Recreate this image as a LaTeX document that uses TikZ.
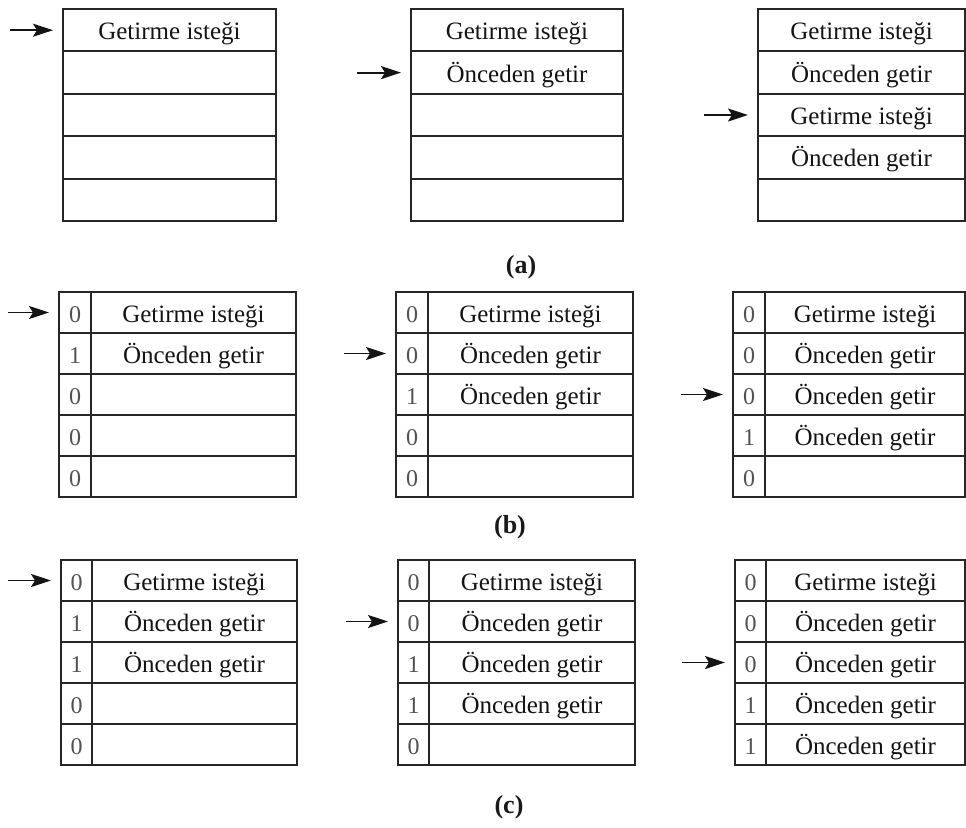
\documentclass[tikz,border=0pt]{standalone}
\usepackage{fontspec}
\setmainfont{Liberation Serif}
\usetikzlibrary{arrows.meta}

% one slot row of a table without a bit column:
% name, left x, right x, top y, height, text
\newcommand\slotrow[6]{%
  \node[slot, minimum width={#3-#2}, minimum height={#5}]
    (#1) at ({(#2+#3)/2},{#4+#5/2}) {#6};}

% one slot row with a leading bit cell:
% name, left x, divider x, right x, top y, height, bit, text
\newcommand\bitrow[8]{%
  \node[bitcell, minimum width={#3-#2}, minimum height={#6}]
    (#1b) at ({(#2+#3)/2},{#5+#6/2}) {#7};
  \node[slot, minimum width={#4-#3}, minimum height={#6}]
    (#1) at ({(#3+#4)/2},{#5+#6/2}) {#8};}

% whole tables: name, geometry, then rows as index/(bit/)text
\newcommand\plaintable[5]{%
  \foreach \i/\t in {#5} {\slotrow{#1r\i}{#2}{#3}{#4+(\i-1)*42.4}{42.4}{\t}}}
\newcommand\bittable[6]{%
  \foreach \i/\b/\t in {#6} {\bitrow{#1r\i}{#2}{#3}{#4}{#5+(\i-1)*41}{41}{\b}{\t}}}

\tikzset{
  slot/.style={draw=black!85, line width=2pt, inner sep=0pt,
    text=black!92, text height=21pt, text depth=2pt,
    font=\fontsize{25}{28}\selectfont},
  bitcell/.style={slot, text=black!68, font=\fontsize{24}{28}\selectfont},
  ptr/.style={line width=1.8pt, black!92,
    -{Stealth[length=20pt,width=13pt,inset=4pt]}, shorten >=9pt},
  caption/.style={font=\bfseries\fontsize{26}{30}\selectfont, text=black!90}
}

\begin{document}
\begin{tikzpicture}[x=1pt, y=-1pt]
  \fill[white] (0,0) rectangle (966,827);
  \useasboundingbox (0,0) rectangle (966,827);

  % ---------------- (a) ----------------
  \plaintable{a1}{63}{276}{9}{1/Getirme isteği, 2/{}, 3/{}, 4/{}, 5/{}}
  \plaintable{a2}{411}{623}{9}{1/Getirme isteği, 2/Önceden getir, 3/{}, 4/{}, 5/{}}
  \plaintable{a3}{758}{965}{9}{1/Getirme isteği, 2/Önceden getir, 3/Getirme isteği, 4/Önceden getir, 5/{}}
  \node[caption] (capa) at (521,267) {(a)};

  % ---------------- (b) ----------------
  \bittable{b1}{59}{91}{296}{292}{1/0/Getirme isteği\hspace{17pt}, 2/1/Önceden getir\hspace{17pt}, 3/0/{}, 4/0/{}, 5/0/{}}
  \bittable{b2}{396}{428}{633}{292}{1/0/Getirme isteği, 2/0/Önceden getir, 3/1/Önceden getir, 4/0/{}, 5/0/{}}
  \bittable{b3}{733}{765}{965}{292}{1/0/Getirme isteği, 2/0/Önceden getir, 3/0/Önceden getir, 4/1/Önceden getir, 5/0/{}}
  \node[caption] (capb) at (510,527) {(b)};

  % ---------------- (c) ----------------
  \bittable{c1}{61}{92}{297}{560}{1/0/Getirme isteği, 2/1/Önceden getir, 3/1/Önceden getir, 4/0/{}, 5/0/{}}
  \bittable{c2}{398}{429}{635}{560}{1/0/Getirme isteği, 2/0/Önceden getir, 3/1/Önceden getir, 4/1/Önceden getir, 5/0/{}}
  \bittable{c3}{735}{766}{965}{560}{1/0/Getirme isteği, 2/0/Önceden getir, 3/0/Önceden getir, 4/1/Önceden getir, 5/1/Önceden getir}
  \node[caption] (capc) at (509,807) {(c)};

  % ---------------- pointers ----------------
  \coordinate (pa1) at ([xshift=-52pt]a1r1.west);
  \coordinate (pa2) at ([xshift=-53pt]a2r2.west);
  \coordinate (pa3) at ([xshift=-53pt]a3r3.west);
  \coordinate (pb1) at ([xshift=-50pt]b1r1b.west);
  \coordinate (pb2) at ([xshift=-51pt]b2r2b.west);
  \coordinate (pb3) at ([xshift=-51pt]b3r3b.west);
  \coordinate (pc1) at ([xshift=-52pt]c1r1b.west);
  \coordinate (pc2) at ([xshift=-51pt]c2r2b.west);
  \coordinate (pc3) at ([xshift=-52pt]c3r3b.west);

  \draw[ptr] (pa1) -- (a1r1.west);
  \draw[ptr] (pa2) -- (a2r2.west);
  \draw[ptr] (pa3) -- (a3r3.west);
  \draw[ptr] (pb1) -- (b1r1b.west);
  \draw[ptr] (pb2) -- (b2r2b.west);
  \draw[ptr] (pb3) -- (b3r3b.west);
  \draw[ptr] (pc1) -- (c1r1b.west);
  \draw[ptr] (pc2) -- (c2r2b.west);
  \draw[ptr] (pc3) -- (c3r3b.west);
\end{tikzpicture}
\end{document}
